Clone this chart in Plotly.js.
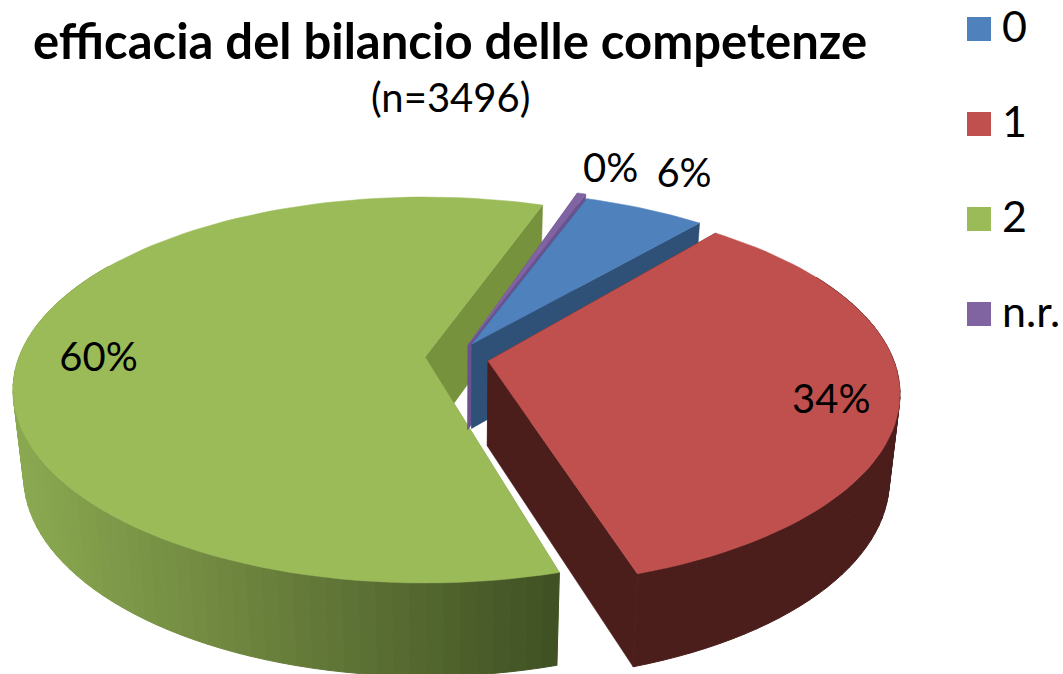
<!DOCTYPE html>
<html>
<head>
<meta charset="utf-8">
<script src="https://cdn.plot.ly/plotly-3.0.1.min.js"></script>
<style>html,body{margin:0;padding:0;background:#fff}#chart{width:1063px;height:674px}</style>
</head>
<body>
<div id="chart"></div>
<script>
// ---- data ----
var categories = ['0', '1', '2', 'n.r.'];
var values = [5.6, 34, 59.8, 0.4];
var valueLabels = ['6%', '34%', '60%', '0%'];
var chartTitle = 'efficacia del bilancio delle competenze';
var chartSubtitle = '(n=3496)';

// ---- styling ----
var topColors = ['#4f81bd', '#c0504d', '#9bbb59', '#8064a2'];
var faceColors = ['#2f5077', '#4b1e1c', '#76923c', '#6a5190'];
var FONT = 'Lato, Carlito, "Open Sans", sans-serif';
var START = 19.2, SQ = 0.171, A = 412, B = 193;
// exploded position of each slice, in the order of categories
var sliceCx = [472, 488, 425, 468];
var sliceCy = [384, 394, 390, 379];
var sliceTurn = [0, 0, 1.9, 0.5];
var apexLift = [7, 0, 0, 1];
var labelR = [1.30, 0.84, 0.805, 1.217];
var labelPhi = [28.7, 103, 270.4, 20.2];

function rad(d) { return d * Math.PI / 180; }
function project(i, r, phi) {
  var u = r * Math.sin(rad(phi)), v = -r * Math.cos(rad(phi));
  var den = 1 - SQ * v;
  return {
    x: sliceCx[i] + A * u * Math.sqrt(1 - SQ * SQ) / den,
    y: sliceCy[i] + B * (v - SQ) / den - (r === 0 ? apexLift[i] : 0)
  };
}
function below(p) {
  return { x: p.x + (457 - p.x) * 0.024, y: p.y + 85 + 0.037 * (p.y - 360) };
}
function poly(pts, color, lw) {
  return {
    type: 'scatter', mode: 'lines', fill: 'toself', fillcolor: color,
    x: pts.map(function (p) { return p.x; }).concat([pts[0].x]),
    y: pts.map(function (p) { return p.y; }).concat([pts[0].y]),
    line: { color: color, width: lw || 0.5 }, hoverinfo: 'skip', showlegend: false
  };
}
function mix(a, b, t) {
  var r = a.map(function (c, k) { return Math.round(c + (b[k] - c) * t); });
  return 'rgb(' + r.join(',') + ')';
}
function wallColor(i, x) {
  if (i === 2) {
    var t = Math.min(1, Math.max(0, (x - 20) / 540));
    return t < 0.5 ? mix([138, 168, 80], [102, 124, 58], t * 2) : mix([102, 124, 58], [63, 80, 35], (t - 0.5) * 2);
  }
  return faceColors[i];
}

var total = values.reduce(function (a, b) { return a + b; }, 0);
var spans = [], acc = START;
values.forEach(function (v, i) {
  var d = v / total * 360;
  spans.push([acc + sliceTurn[i], acc + d + sliceTurn[i]]);
  acc += d;
});

var traces = [];
[2, 3, 0, 1].forEach(function (i) {
  var s = spans[i], apex = project(i, 0, 0);
  [s[0], s[1]].forEach(function (phi) {
    var rim = project(i, 1, phi);
    traces.push(poly([apex, rim, below(rim), below(apex)], faceColors[i]));
  });
  var n = Math.max(2, Math.ceil((s[1] - s[0]) / 2)), step = (s[1] - s[0]) / n, top = [apex];
  for (var k = 0; k <= n; k++) {
    var a = s[0] + k * step, p = project(i, 1, a);
    top.push(p);
    if (k < n) {
      var m = (a % 360);
      if (m > 60 && m < 300) {
        var q = project(i, 1, a + step);
        traces.push(poly([p, q, below(q), below(p)], wallColor(i, (p.x + q.x) / 2), 1));
      }
    }
  }
  traces.push(poly(top, topColors[i]));
});

// value labels, placed relative to each slice
var lab = categories.map(function (c, i) { return project(i, labelR[i], labelPhi[i]); });
traces.push({
  type: 'scatter', mode: 'text', x: lab.map(function (p) { return p.x; }), y: lab.map(function (p) { return p.y + 5; }),
  text: valueLabels, textposition: 'middle center',
  textfont: { family: FONT, size: 40, color: '#000' }, hoverinfo: 'skip', showlegend: false
});

// legend column
categories.forEach(function (c, i) {
  traces.push({
    type: 'scatter', mode: 'markers', name: c, x: [979], y: [29 + 95 * i],
    marker: { symbol: 'square', size: 24, color: topColors[i], line: { width: 0 } },
    hoverinfo: 'name', showlegend: false
  });
});
traces.push({
  type: 'scatter', mode: 'text', x: categories.map(function () { return 1002; }),
  y: categories.map(function (c, i) { return 31 + 95 * i; }),
  text: categories, textposition: 'middle right',
  textfont: { family: FONT, size: 43, color: '#000' }, hoverinfo: 'skip', showlegend: false
});

var layout = {
  width: 1063, height: 674, margin: { l: 0, r: 0, t: 0, b: 0 },
  paper_bgcolor: '#fff', plot_bgcolor: '#fff', showlegend: false,
  xaxis: { range: [0, 1063], visible: false, fixedrange: true },
  yaxis: { range: [674, 0], visible: false, fixedrange: true },
  title: {
    text: '<b>' + chartTitle + '</b>', x: 450 / 1063, xanchor: 'center', xref: 'paper',
    y: 1 - 42 / 674, yanchor: 'middle', yref: 'container',
    font: { family: FONT, size: 49, color: '#000' }
  },
  annotations: [{
    text: chartSubtitle, xref: 'paper', yref: 'paper', x: 450 / 1063, y: 1 - 97 / 674,
    xanchor: 'center', yanchor: 'middle', showarrow: false,
    font: { family: FONT, size: 40, color: '#000' }
  }]
};
Plotly.newPlot('chart', traces, layout, { displayModeBar: false, staticPlot: true });
</script>
</body>
</html>
